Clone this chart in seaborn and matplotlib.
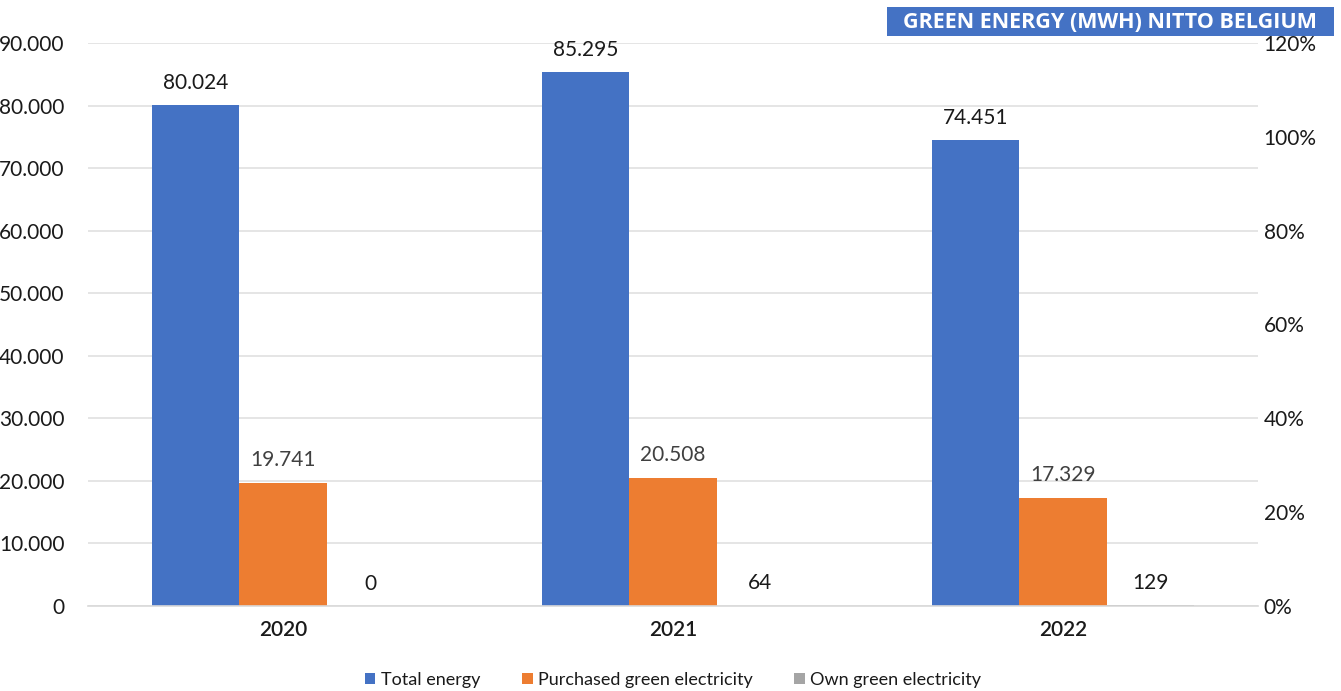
import matplotlib
matplotlib.use("Agg")
import matplotlib.pyplot as plt
import seaborn as sns
import pandas as pd
from matplotlib.patches import Rectangle
from matplotlib.ticker import FuncFormatter, MultipleLocator

years = ["2020", "2021", "2022"]
series_names = ["Total energy", "Purchased green electricity", "Own green electricity"]
total_energy = [80024, 85295, 74451]
purchased_green = [19741, 20508, 17329]
own_green = [0, 64, 129]
colors = ["#4472C4", "#ED7D31", "#A5A5A5"]
label_colors = ["#1a1a1a", "#404040", "#1a1a1a"]
title_text = "GREEN ENERGY (MWH) NITTO BELGIUM"

rows = []
for name, vals in zip(series_names, [total_energy, purchased_green, own_green]):
    for y, v in zip(years, vals):
        rows.append({"year": y, "series": name, "value": v})
df = pd.DataFrame(rows)

sns.set_theme(style="white")
plt.rcParams["font.family"] = ["Lato", "DejaVu Sans"]

W, H = 1341, 691
fig = plt.figure(figsize=(W / 100, H / 100), dpi=100)
ax = fig.add_axes([88 / W, 1 - 606 / H, 1170 / W, 563 / H])

sns.barplot(data=df, x="year", y="value", hue="series", hue_order=series_names,
            palette=colors, width=0.67, gap=0, saturation=1, ax=ax,
            errorbar=None, legend=True, linewidth=0, edgecolor="none")

def fmt_thousands(v, pos=None):
    return f"{int(round(v)):,}".replace(",", ".")

for container, lc in zip(ax.containers, label_colors):
    labels = [fmt_thousands(b.get_height()) for b in container]
    ax.bar_label(container, labels=labels, padding=9, fontsize=15, color=lc)

ax.set_ylim(0, 90000)
ax.set_xlim(-0.5, 2.5)
ax.yaxis.set_major_locator(MultipleLocator(10000))
ax.yaxis.set_major_formatter(FuncFormatter(fmt_thousands))
ax.grid(axis="y", color="#e0e0e0", linewidth=1.2)
ax.set_axisbelow(True)
for s in ["top", "right", "left"]:
    ax.spines[s].set_visible(False)
ax.spines["bottom"].set_color("#d9d9d9")
ax.spines["bottom"].set_linewidth(1.2)
ax.tick_params(axis="y", length=0, pad=17, labelsize=15, labelcolor="#1a1a1a")
ax.tick_params(axis="x", length=0, pad=10, labelsize=15, labelcolor="#1a1a1a")
for t in ax.get_xticklabels():
    t.set_fontweight("semibold")
ax.set_xlabel("")
ax.set_ylabel("")

ax2 = ax.twinx()
ax2.set_ylim(0, 1.2)
ax2.yaxis.set_major_locator(MultipleLocator(0.2))
ax2.yaxis.set_major_formatter(FuncFormatter(lambda v, p: f"{v * 100:.0f}%"))
for s in ax2.spines.values():
    s.set_visible(False)
ax2.tick_params(axis="y", length=0, pad=4, labelsize=15, labelcolor="#1a1a1a")
ax2.grid(False)

leg = ax.legend(loc="center", bbox_to_anchor=(0.5, -74 / 563), ncol=3, frameon=False,
                fontsize=13, handlelength=0.6, handleheight=0.6, handletextpad=0.3,
                columnspacing=2.3)
for t in leg.get_texts():
    t.set_color("#1a1a1a")

# title banner in the top-right corner
fig.patches.append(Rectangle((887 / W, 1 - 36 / H), 447 / W, 29 / H,
                             transform=fig.transFigure, facecolor="#4472C4",
                             edgecolor="none", zorder=5))
fig.text(1110 / W, 1 - 22 / H, title_text, ha="center", va="center",
         fontsize=15.5, fontweight="bold", color="white", family=["Open Sans", "DejaVu Sans"],
         zorder=6)

fig.savefig("out.png", dpi=100)
